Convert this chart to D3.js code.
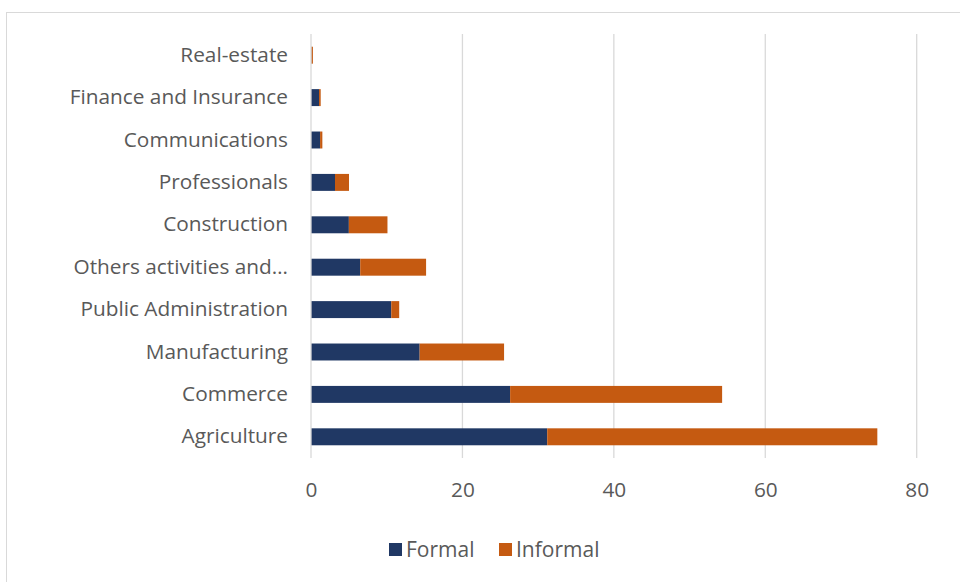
<!DOCTYPE html>
<html>
<head>
<meta charset="utf-8">
<script src="https://cdn.jsdelivr.net/npm/d3@7"></script>
<style>
  html, body { margin: 0; padding: 0; background: #fff; }
  svg { display: block; }
  text { font-family: "Open Sans", sans-serif; fill: #595959; }
</style>
</head>
<body>
<svg id="chart" width="960" height="582"></svg>
<script>
// Employment by sector, split into formal and informal
const categories = [
  "Agriculture", "Commerce", "Manufacturing", "Public Administration",
  "Others activities and…", "Construction", "Professionals",
  "Communications", "Finance and Insurance", "Real-estate"
];
const formal   = [31.2, 26.3, 14.35, 10.6, 6.5, 5.0, 3.17, 1.2, 1.06, 0.05];
const informal = [43.6, 28.0, 11.15, 1.05, 8.7, 5.1, 1.85, 0.3, 0.22, 0.2];
const seriesNames = ["Formal", "Informal"];
const seriesColors = ["#203864", "#c55a11"];
const xTicks = [0, 20, 40, 60, 80];

const FONT = "'Open Sans', sans-serif";
const svg = d3.select("#chart");

// outer frame
svg.append("rect")
  .attr("x", 6.5).attr("y", 12.5)
  .attr("width", 970).attr("height", 600)
  .attr("fill", "none").attr("stroke", "#d9d9d9").attr("stroke-width", 1);

const plot = { left: 311, right: 916.7, top: 34, bottom: 458 };

const x = d3.scaleLinear().domain([0, 80]).range([plot.left, plot.right]);
const y = d3.scaleBand().domain(categories.slice().reverse())
  .range([plot.top, plot.bottom]).paddingInner(0.6).paddingOuter(0.3);

// vertical gridlines
svg.append("g").selectAll("line").data(xTicks.filter(t => t > 0)).join("line")
  .attr("x1", d => x(d)).attr("x2", d => x(d))
  .attr("y1", plot.top).attr("y2", plot.bottom)
  .attr("stroke", "#d9d9d9").attr("stroke-width", 1.3);

// stacked data
const rows = categories.map((c, i) => ({ cat: c, Formal: formal[i], Informal: informal[i] }));
const stacked = d3.stack().keys(seriesNames)(rows);

svg.append("g").selectAll("g").data(stacked).join("g")
  .attr("fill", (d, i) => seriesColors[i])
  .selectAll("rect").data(d => d).join("rect")
  .attr("x", d => x(d[0]))
  .attr("width", d => Math.max(0, x(d[1]) - x(d[0])))
  .attr("y", d => y(d.data.cat))
  .attr("height", y.bandwidth());

// category axis line
svg.append("line")
  .attr("x1", x(0)).attr("x2", x(0))
  .attr("y1", plot.top).attr("y2", plot.bottom)
  .attr("stroke", "#d9d9d9").attr("stroke-width", 1.3);

// category labels
const yAxis = d3.axisLeft(y).tickSize(0).tickPadding(23);
const yg = svg.append("g").attr("transform", `translate(${x(0)},0)`).call(yAxis);
yg.select(".domain").remove();
yg.selectAll("text").attr("font-size", 20.8).attr("fill", "#595959")
  .style("font-family", FONT);

// value axis
const xAxis = d3.axisBottom(x).tickValues(xTicks).tickSize(0).tickPadding(24);
const xg = svg.append("g").attr("transform", `translate(0,${plot.bottom})`).call(xAxis);
xg.select(".domain").remove();
xg.selectAll("text").attr("font-size", 20.8).attr("fill", "#595959")
  .style("font-family", FONT);

// legend
const legendItems = [
  { name: seriesNames[0], color: seriesColors[0], x: 389 },
  { name: seriesNames[1], color: seriesColors[1], x: 499 }
];
const lg = svg.append("g");
legendItems.forEach(it => {
  lg.append("rect").attr("x", it.x).attr("y", 543).attr("width", 13).attr("height", 13)
    .attr("fill", it.color);
  lg.append("text").attr("x", it.x + 17).attr("y", 557)
    .attr("font-size", 21).style("font-family", FONT).text(it.name);
});
</script>
</body>
</html>
